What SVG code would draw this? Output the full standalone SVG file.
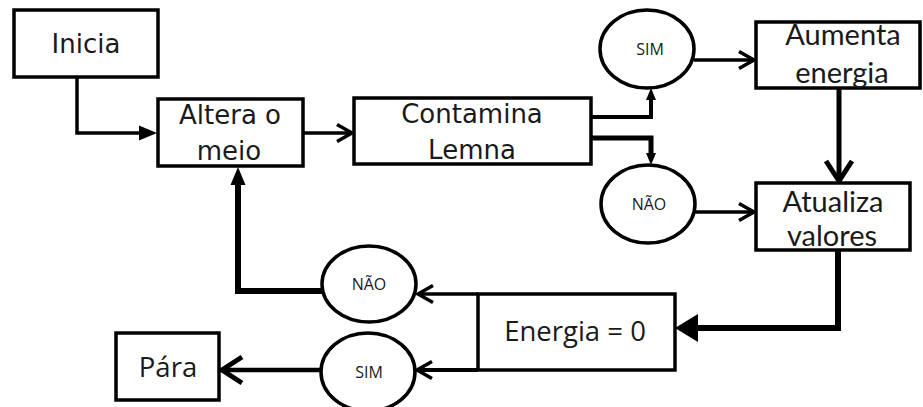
<svg xmlns="http://www.w3.org/2000/svg" width="923" height="407" viewBox="0 0 923 407">
<style>
.box{fill:#fff;stroke:#000;stroke-width:3.5}
.ell{fill:#fff;stroke:#000;stroke-width:3.5}
.t1{font-family:"DejaVu Sans",Verdana,sans-serif;font-size:26px;fill:#1a1a1a;text-anchor:middle}
.t2{font-family:"Open Sans","Noto Sans",sans-serif;font-size:27.5px;fill:#1a1a1a;text-anchor:middle}
.t4{font-family:Lato,"Open Sans",sans-serif;font-size:29px;fill:#1a1a1a;text-anchor:middle}
.t3{font-family:"Open Sans","Noto Sans",sans-serif;font-size:16px;fill:#1a1a1a;text-anchor:middle}
.c{fill:none;stroke:#000;stroke-linejoin:miter}
</style>
<defs>
<marker id="chev" markerUnits="userSpaceOnUse" overflow="visible" markerWidth="20" markerHeight="20" refX="0" refY="0" orient="auto">
<path d="M-15,-8.5 L0,0 L-15,8.5" fill="none" stroke="#000" stroke-width="3.5"/>
</marker>
<marker id="chevBig" markerUnits="userSpaceOnUse" overflow="visible" markerWidth="20" markerHeight="20" refX="0" refY="0" orient="auto">
<path d="M-20,-13 L0,0 L-20,13" fill="none" stroke="#000" stroke-width="5"/>
</marker>
<marker id="tri" markerUnits="userSpaceOnUse" overflow="visible" markerWidth="20" markerHeight="20" refX="0" refY="0" orient="auto">
<path d="M-1,-7.5 L17,0 L-1,7.5 z" fill="#000"/>
</marker>
<marker id="triSmall" markerUnits="userSpaceOnUse" overflow="visible" markerWidth="20" markerHeight="20" refX="0" refY="0" orient="auto">
<path d="M-1,-5 L11,0 L-1,5 z" fill="#000"/>
</marker>
<marker id="triBig" markerUnits="userSpaceOnUse" overflow="visible" markerWidth="20" markerHeight="20" refX="0" refY="0" orient="auto">
<path d="M-1,-14 L22,0 L-1,14 z" fill="#000"/>
</marker>
</defs>
<rect width="923" height="407" fill="#fff"/>
<g id="connectors">
<path class="c" d="M77,77 V133 H140" stroke-width="3.5" marker-end="url(#tri)"/>
<path class="c" d="M303,133 H352" stroke-width="3.5" marker-end="url(#chev)"/>
<path class="c" d="M591,117 H651 V99" stroke-width="4" marker-end="url(#triSmall)"/>
<path class="c" d="M591,138 H651 V154" stroke-width="5" marker-end="url(#triSmall)"/>
<path class="c" d="M694,60 H754" stroke-width="3.5" marker-end="url(#chev)"/>
<path class="c" d="M694,212 H754" stroke-width="3.5" marker-end="url(#chev)"/>
<path class="c" d="M839,88 V181" stroke-width="5" marker-end="url(#chevBig)"/>
<path class="c" d="M838,250 V328 H697" stroke-width="6" marker-end="url(#triBig)"/>
<path class="c" d="M478,294 H418" stroke-width="3.5" marker-end="url(#chev)"/>
<path class="c" d="M478,370 H417" stroke-width="4" marker-end="url(#chev)"/>
<path class="c" d="M322,291 H238 V184" stroke-width="6" marker-end="url(#tri)"/>
<path class="c" d="M322,370 H222" stroke-width="4.5" marker-end="url(#chevBig)"/>
</g>
<g id="inicia"><rect class="box" x="14" y="10" width="144" height="67"/><text class="t1" x="86" y="53">Inicia</text></g>
<g id="altera"><rect class="box" x="158" y="99" width="145" height="67"/><text class="t1" x="230" y="124">Altera o</text><text class="t1" x="229" y="160">meio</text></g>
<g id="contamina"><rect class="box" x="354" y="98" width="237" height="66"/><text class="t1" x="472" y="123">Contamina</text><text class="t1" x="472" y="159">Lemna</text></g>
<g id="sim1"><ellipse class="ell" cx="647" cy="49" rx="47" ry="39"/><text class="t3" x="650" y="55">SIM</text></g>
<g id="nao1"><ellipse class="ell" cx="648" cy="204" rx="47" ry="39"/><text class="t3" x="649" y="210">NÃO</text></g>
<g id="aumenta"><rect class="box" x="756" y="22" width="164" height="66"/><text class="t4" x="843" y="45">Aumenta</text><text class="t4" x="842" y="83">energia</text></g>
<g id="atualiza"><rect class="box" x="756" y="183" width="154" height="67"/><text class="t4" x="833" y="212">Atualiza</text><text class="t4" x="832" y="246">valores</text></g>
<g id="energia"><rect class="box" x="478" y="294" width="197" height="76"/><text class="t2" x="575" y="341">Energia = 0</text></g>
<g id="nao2"><ellipse class="ell" cx="369" cy="284" rx="47" ry="38"/><text class="t3" x="369" y="290">NÃO</text></g>
<g id="sim2"><ellipse class="ell" cx="368" cy="372" rx="47" ry="39"/><text class="t3" x="369" y="378">SIM</text></g>
<g id="para"><rect class="box" x="116" y="333" width="103" height="67"/><text class="t2" x="168" y="377">Pára</text></g>
</svg>
